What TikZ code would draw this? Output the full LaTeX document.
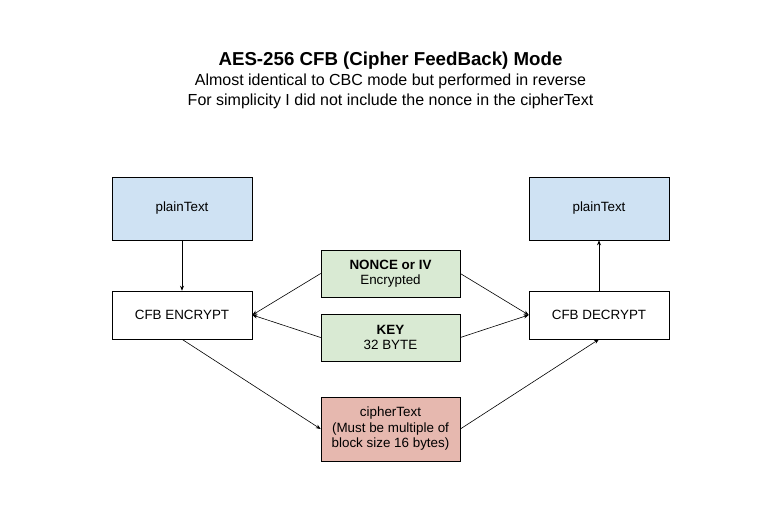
\documentclass[tikz,border=0pt]{standalone}
\usepackage{fontspec}
\setmainfont{Liberation Sans}
\usetikzlibrary{arrows.meta}
\definecolor{bluefill}{HTML}{CFE2F3}
\definecolor{greenfill}{HTML}{D9EAD3}
\definecolor{redfill}{HTML}{E6B8AF}
\begin{document}
\begin{tikzpicture}[x=1pt,y=-1pt,
  box/.style={draw=black, line width=0.6pt, minimum width=140pt, inner sep=0pt, align=center, font=\fontsize{13.4}{15.5}\selectfont},
  conn/.style={draw=black, line width=0.6pt, -{Stealth[length=5pt,width=4pt]}}]
\useasboundingbox (0,0) rectangle (781,519);
\node (title) at (390.5,61) {\fontsize{18.7}{21}\selectfont\bfseries AES-256 CFB (Cipher FeedBack) Mode};
\node (sub1) at (390.5,81) {\fontsize{16}{18}\selectfont Almost identical to CBC mode but performed in reverse};
\node (sub2) at (390.5,101) {\fontsize{16}{18}\selectfont For simplicity I did not include the nonce in the cipherText};
\node[box, fill=bluefill, minimum height=63pt] (pl) at (182,208.5) {plainText};
\node[box, fill=white, minimum height=48pt] (enc) at (182,315) {CFB ENCRYPT};
\node[box, fill=bluefill, minimum height=63pt] (pr) at (599,208.5) {plainText};
\node[box, fill=white, minimum height=48pt] (dec) at (599,315) {CFB DECRYPT};
\node[box, fill=greenfill, minimum height=47pt, minimum width=139pt] (nonce) at (390.5,273.5) {\textbf{NONCE or IV}\\Encrypted};
\node[box, fill=greenfill, minimum height=47pt, minimum width=139pt] (key) at (390.5,337.5) {\textbf{KEY}\\32 BYTE};
\node[box, fill=redfill, minimum height=64pt, minimum width=139pt] (ct) at (390.5,429) {cipherText\\(Must be multiple of\\block size 16 bytes)};
\draw[conn] (pl.south) -- (enc.north);
\draw[conn] (nonce.west) -- (enc.east);
\draw[conn] (key.west) -- (enc.east);
\draw[conn] (nonce.east) -- (dec.west);
\draw[conn] (key.east) -- (dec.west);
\draw[conn] (enc.south) -- (ct.west);
\draw[conn] (ct.east) -- (dec.south);
\draw[conn] (dec.north) -- (pr.south);
\end{tikzpicture}
\end{document}
